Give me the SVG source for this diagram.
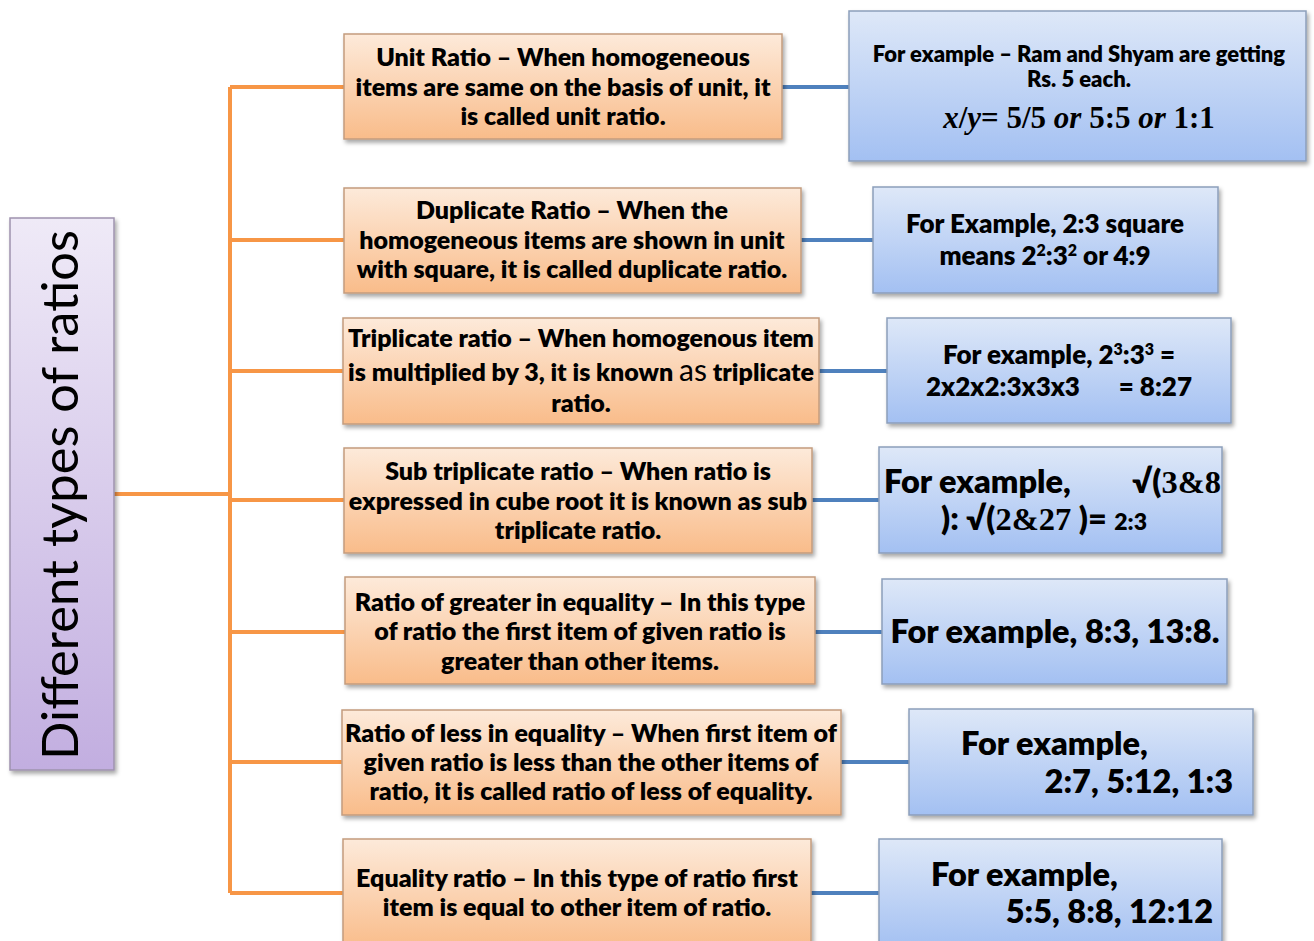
<svg xmlns="http://www.w3.org/2000/svg" width="1314" height="941" viewBox="0 0 1314 941">
<defs>
<linearGradient id="og" x1="0" y1="0" x2="0" y2="1"><stop offset="0" stop-color="#FDEADA"/><stop offset="1" stop-color="#F9BC8A"/></linearGradient>
<linearGradient id="bg" x1="0" y1="0" x2="0" y2="1"><stop offset="0" stop-color="#DEE8F8"/><stop offset="1" stop-color="#A3C0F2"/></linearGradient>
<linearGradient id="pg" x1="0" y1="0" x2="0" y2="1"><stop offset="0" stop-color="#EFEAF7"/><stop offset="1" stop-color="#C2AEE0"/></linearGradient>
<filter id="sh" x="-10%" y="-10%" width="120%" height="130%"><feDropShadow dx="2" dy="3" stdDeviation="2" flood-color="#000" flood-opacity="0.35"/></filter>
<style>
.ob{fill:url(#og);stroke:#C39C7E;stroke-width:1.5;filter:url(#sh)}
.bb{fill:url(#bg);stroke:#8C9EBB;stroke-width:1.5;filter:url(#sh)}
.pb{fill:url(#pg);stroke:#9E93AE;stroke-width:1.5;filter:url(#sh)}
.t{font-family:Lato,"Open Sans",sans-serif;font-weight:800;fill:#000;font-size:25px;text-anchor:middle}
.e{font-size:26px}
.s{font-size:22px}
.l{font-size:32.5px}
.m{font-family:"Liberation Serif",serif;font-weight:bold}
.o{stroke:#F79646;stroke-width:4;fill:none}
.b{stroke:#4F81BD;stroke-width:4;fill:none}
</style>
</defs>
<rect width="1314" height="941" fill="#fff"/>
<g id="connectors">
<path class="o" d="M114 494H230M230 87V893M230 87H344M230 240H344M230 371H343M230 500H344M230 632H345M230 762H342M230 893H343"/>
<path class="b" d="M782 87H849M801 240H873M819 371H887M812 500H879M815 632H882M841 762H909M811 893H879"/>
</g>
<g id="root">
<rect class="pb" x="10" y="218" width="104" height="552"/>
<text transform="translate(78,495) rotate(-90)" style="font-family:Lato,'Open Sans',sans-serif;font-size:50px;fill:#000;text-anchor:middle" textLength="530" lengthAdjust="spacingAndGlyphs">Different types of ratios</text>
</g>
<g id="unit">
<rect class="ob" x="344" y="34" width="438" height="105"/>
<text class="t" x="563" y="66">Unit Ratio – When homogeneous</text>
<text class="t" x="563" y="96">items are same on the basis of unit, it</text>
<text class="t" x="563" y="125">is called unit ratio.</text>
</g>
<g id="unit-ex">
<rect class="bb" x="849" y="11" width="457" height="150"/>
<text class="t s" x="1079" y="62">For example – Ram and Shyam are getting</text>
<text class="t s" x="1079" y="87">Rs. 5 each.</text>
<text class="t m" x="1079" y="128" style="font-size:31px"><tspan font-style="italic">x</tspan>/<tspan font-style="italic">y</tspan>=  5/5  <tspan font-style="italic">or</tspan> 5:5 <tspan font-style="italic">or</tspan> 1:1</text>
</g>
<g id="duplicate">
<rect class="ob" x="344" y="188" width="457" height="105"/>
<text class="t" x="572" y="219">Duplicate Ratio – When the</text>
<text class="t" x="572" y="249">homogeneous items are shown in unit</text>
<text class="t" x="572" y="278">with square, it is called duplicate ratio.</text>
</g>
<g id="duplicate-ex">
<rect class="bb" x="873" y="187" width="345" height="106"/>
<text class="t e" x="1045" y="233">For Example, 2:3 square</text>
<text class="t e" x="1045" y="265">means 2<tspan font-size="16" dy="-9">2</tspan><tspan dy="9">:3</tspan><tspan font-size="16" dy="-9">2</tspan><tspan dy="9"> or 4:9</tspan></text>
</g>
<g id="triplicate">
<rect class="ob" x="343" y="318" width="476" height="106"/>
<text class="t" x="581" y="347">Triplicate ratio – When homogenous item</text>
<text class="t" x="581" y="381">is multiplied by 3, it is known <tspan font-weight="normal" font-size="30">as</tspan> triplicate</text>
<text class="t" x="581" y="412">ratio.</text>
</g>
<g id="triplicate-ex">
<rect class="bb" x="887" y="318" width="344" height="105"/>
<text class="t e" x="1059" y="364">For example, 2<tspan font-size="16" dy="-9">3</tspan><tspan dy="9">:3</tspan><tspan font-size="16" dy="-9">3</tspan><tspan dy="9"> =</tspan></text>
<text class="t e" x="926" y="396" style="text-anchor:start">2x2x2:3x3x3</text>
<text class="t e" x="1192" y="396" style="text-anchor:end">= 8:27</text>
</g>
<g id="subtriplicate">
<rect class="ob" x="344" y="448" width="468" height="105"/>
<text class="t" x="578" y="480">Sub triplicate ratio – When ratio is</text>
<text class="t" x="578" y="510">expressed in cube root it is known as sub</text>
<text class="t" x="578" y="539">triplicate ratio.</text>
</g>
<g id="subtriplicate-ex">
<rect class="bb" x="879" y="447" width="343" height="106"/>
<text class="t l" x="884" y="493" style="text-anchor:start">For example,</text>
<text class="t l" x="1221" y="493" style="text-anchor:end">√(<tspan class="m">3&amp;8</tspan></text>
<text class="t l" x="941" y="530" style="text-anchor:start">): √(<tspan class="m">2&amp;27</tspan> )= <tspan font-size="23">2:3</tspan></text>
</g>
<g id="greater">
<rect class="ob" x="345" y="577" width="470" height="107"/>
<text class="t" x="580" y="611">Ratio of greater in equality – In this type</text>
<text class="t" x="580" y="640">of ratio the first item of given ratio is</text>
<text class="t" x="580" y="670">greater than other items.</text>
</g>
<g id="greater-ex">
<rect class="bb" x="882" y="579" width="345" height="105"/>
<text class="t l" x="1055" y="643">For example, 8:3, 13:8.</text>
</g>
<g id="less">
<rect class="ob" x="342" y="710" width="499" height="105"/>
<text class="t" x="591" y="742">Ratio of less in equality – When first item of</text>
<text class="t" x="591" y="771">given ratio is less than the other items of</text>
<text class="t" x="591" y="800">ratio, it is called ratio of less of equality.</text>
</g>
<g id="less-ex">
<rect class="bb" x="909" y="709" width="344" height="106"/>
<text class="t l" x="961" y="755" style="text-anchor:start">For example,</text>
<text class="t l" x="1233" y="793" style="text-anchor:end">2:7, 5:12, 1:3</text>
</g>
<g id="equality">
<rect class="ob" x="343" y="839" width="468" height="110"/>
<text class="t" x="577" y="887">Equality ratio – In this type of ratio first</text>
<text class="t" x="577" y="916">item is equal to other item of ratio.</text>
</g>
<g id="equality-ex">
<rect class="bb" x="879" y="839" width="343" height="110"/>
<text class="t l" x="931" y="886" style="text-anchor:start">For example,</text>
<text class="t l" x="1213" y="923" style="text-anchor:end">5:5, 8:8, 12:12</text>
</g>
</svg>
